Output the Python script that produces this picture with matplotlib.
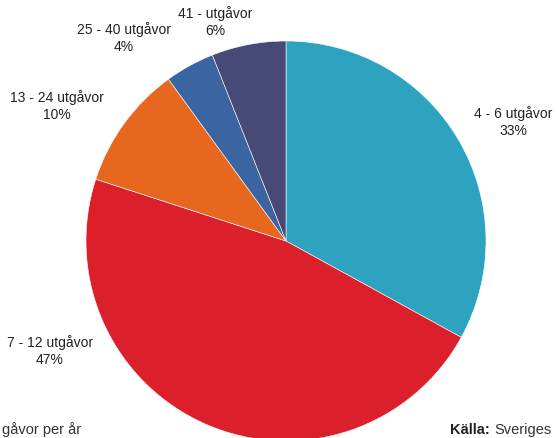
import matplotlib.pyplot as plt

# Andel per antal utgåvor
categories = ['4 - 6 utgåvor', '7 - 12 utgåvor', '13 - 24 utgåvor', '25 - 40 utgåvor', '41 - utgåvor']
shares = [33, 47, 10, 4, 6]
colors = ['#2EA3C0', '#DB1F2B', '#E8671F', '#3A65A0', '#474A77']

# label positions in pixel coordinates (figure is cropped)
label_pos = [(513, 122), (50, 351), (57, 106), (124, 38), (215, 22)]

plt.rcParams['font.family'] = ['Liberation Sans', 'DejaVu Sans']

fig = plt.figure(figsize=(5.57, 4.38), dpi=100)
ax = fig.add_axes([0, 0, 1, 1])

# y axis is inverted, so angles are mirrored: start at -90 and go counterclockwise
ax.pie(shares, colors=colors, startangle=-90, counterclock=True,
       center=(286, 241), radius=200,
       wedgeprops=dict(edgecolor='white', linewidth=0.4))
ax.set_xlim(0, 557)
ax.set_ylim(438, 0)
ax.set_aspect('equal')
ax.axis('off')

for cat, val, (x, y) in zip(categories, shares, label_pos):
    ax.text(x, y, f'{cat}\n{val}%', ha='center', va='center',
            fontsize=10, color='#222222', linespacing=1.3)

ax.text(2, 434, 'gåvor per år', ha='left', va='baseline',
        fontsize=10.5, color='#333333')
ax.text(450, 434, 'Källa:', ha='left', va='baseline', fontsize=10.5,
        fontweight='bold', color='#222222')
ax.text(494, 434, 'Sveriges', ha='left', va='baseline',
        fontsize=10.5, color='#333333')

fig.savefig('out.png', dpi=100)
